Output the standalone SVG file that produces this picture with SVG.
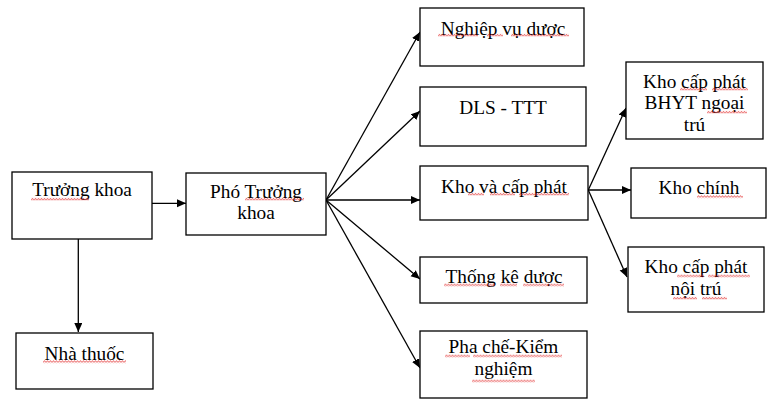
<svg xmlns="http://www.w3.org/2000/svg" width="781" height="406" viewBox="0 0 781 406">
<style>
.box{fill:#fff;stroke:#000;stroke-width:1.3}
.t{font-family:'Liberation Serif','Times New Roman',serif;font-size:19.3px;fill:#000;text-anchor:middle}
.c{stroke:#000;stroke-width:1.3;fill:none;marker-end:url(#ah)}
</style>
<defs>
<marker id="ah" markerUnits="userSpaceOnUse" markerWidth="10" markerHeight="9" refX="9" refY="4" orient="auto">
<path d="M0,0 L9,4 L0,8 Z" fill="#000"/>
</marker>
<pattern id="sq" patternUnits="userSpaceOnUse" width="3" height="3">
<path d="M0,2.5 L1.5,0.5 L3,2.5" stroke="#e02020" stroke-width="0.8" fill="none"/>
</pattern>
<clipPath id="clipB"><rect x="626" y="62" width="138" height="70"/></clipPath>
</defs>
<rect width="781" height="406" fill="#fff"/>

<g id="connectors">
<path class="c" d="M151,203.3 L186,203.3"/>
<path class="c" d="M78.3,237 L78.3,332"/>
<path class="c" d="M326,200 L420,32"/>
<path class="c" d="M326,200 L420,111"/>
<path class="c" d="M326,200 L420,200"/>
<path class="c" d="M326,200 L420,279"/>
<path class="c" d="M326,200 L420,368"/>
<path class="c" d="M588.3,190 L626,108"/>
<path class="c" d="M588.3,190 L631,190"/>
<path class="c" d="M588.3,190 L627,277"/>
</g>

<g id="truong-khoa">
<rect class="box" x="12" y="172" width="140" height="67"/>
<text class="t" x="82" y="196">Trưởng khoa</text>
<rect transform="translate(31,197.8)" width="58" height="3" fill="url(#sq)"/>
</g>

<g id="nha-thuoc">
<rect class="box" x="16" y="333" width="137" height="56"/>
<text class="t" x="84.5" y="360">Nhà thuốc</text>
<rect transform="translate(43,360.2)" width="83" height="3" fill="url(#sq)"/>
</g>

<g id="pho-truong-khoa">
<rect class="box" x="186" y="173" width="140" height="62"/>
<text class="t" x="256" y="198.3">Phó Trưởng</text>
<text class="t" x="256" y="219.3">khoa</text>
<rect transform="translate(245,197.8)" width="59" height="3" fill="url(#sq)"/>
</g>

<g id="nghiep-vu-duoc">
<rect class="box" x="420" y="8" width="164" height="58"/>
<text class="t" x="503" y="34.5">Nghiệp vụ dược</text>
<rect transform="translate(438,33.8)" width="40" height="3" fill="url(#sq)"/>
<rect transform="translate(487,33.8)" width="16" height="3" fill="url(#sq)"/>
<rect transform="translate(511,33.8)" width="58" height="3" fill="url(#sq)"/>
</g>

<g id="dls-ttt">
<rect class="box" x="420" y="87" width="166" height="59"/>
<text class="t" x="503" y="114">DLS - TTT</text>
</g>

<g id="kho-va-cap-phat">
<rect class="box" x="420" y="166" width="168" height="54"/>
<text class="t" x="504" y="192.5">Kho và cấp phát</text>
<rect transform="translate(468,192.8)" width="16" height="3" fill="url(#sq)"/>
<rect transform="translate(490,192.8)" width="25" height="3" fill="url(#sq)"/>
<rect transform="translate(519,192.8)" width="50" height="3" fill="url(#sq)"/>
</g>

<g id="thong-ke-duoc">
<rect class="box" x="420" y="257" width="167" height="46"/>
<text class="t" x="504" y="282.5">Thống kê dược</text>
<rect transform="translate(444,283.5)" width="51" height="3" fill="url(#sq)"/>
<rect transform="translate(500,283.5)" width="17" height="3" fill="url(#sq)"/>
<rect transform="translate(523,283.5)" width="41" height="3" fill="url(#sq)"/>
</g>

<g id="pha-che-kiem-nghiem">
<rect class="box" x="420" y="331" width="167" height="67"/>
<text class="t" x="503.5" y="353.3">Pha chế-Kiểm</text>
<text class="t" x="503.5" y="375">nghiệm</text>
<rect transform="translate(445,354.5)" width="25" height="3" fill="url(#sq)"/>
<rect transform="translate(473,354.5)" width="89" height="3" fill="url(#sq)"/>
<rect transform="translate(472,379.5)" width="63" height="3" fill="url(#sq)"/>
</g>

<g id="kho-cap-phat-bhyt">
<rect class="box" x="626" y="62" width="137" height="77"/>
<g clip-path="url(#clipB)">
<text class="t" x="694.5" y="87.7">Kho cấp phát</text>
<text class="t" x="694.5" y="109.3">BHYT ngoại</text>
<text class="t" x="694.5" y="131">trú</text>
</g>
<rect transform="translate(680,87.8)" width="27" height="3" fill="url(#sq)"/>
<rect transform="translate(712,87.8)" width="36" height="3" fill="url(#sq)"/>
<rect transform="translate(707,110.8)" width="40" height="3" fill="url(#sq)"/>
</g>

<g id="kho-chinh">
<rect class="box" x="631" y="168" width="135" height="50"/>
<text class="t" x="699" y="194">Kho chính</text>
<rect transform="translate(697,195.2)" width="46" height="3" fill="url(#sq)"/>
</g>

<g id="kho-cap-phat-noi-tru">
<rect class="box" x="628" y="247" width="136" height="65"/>
<text class="t" x="696" y="272.7">Kho cấp phát</text>
<text class="t" x="696" y="295">nội trú</text>
<rect transform="translate(677,274.5)" width="27" height="3" fill="url(#sq)"/>
<rect transform="translate(708,274.5)" width="42" height="3" fill="url(#sq)"/>
<rect transform="translate(673,296.8)" width="24" height="3" fill="url(#sq)"/>
<rect transform="translate(702,296.8)" width="25" height="3" fill="url(#sq)"/>
</g>
</svg>
